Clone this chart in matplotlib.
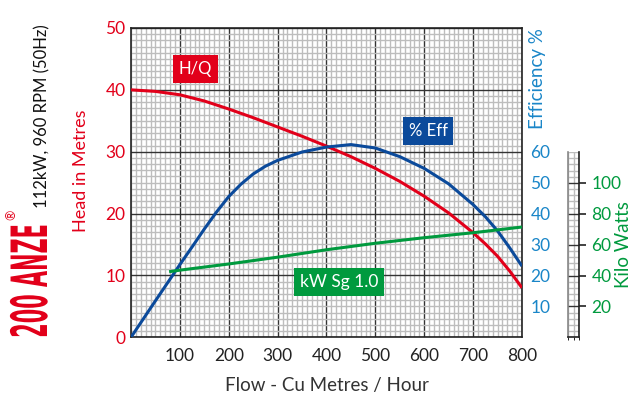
import numpy as np
import matplotlib
matplotlib.use('Agg')
import matplotlib.pyplot as plt
import matplotlib.patheffects as pe
from matplotlib.transforms import Affine2D
from matplotlib.ticker import MultipleLocator

plt.rcParams['font.family'] = ['Lato', 'DejaVu Sans']

# flow, cu metres / hour  -> head in metres
hq_flow = [0, 50, 100, 150, 200, 250, 300, 350, 400, 450, 500, 550, 600, 650, 700, 725, 750, 775, 800]
head = [40.0, 39.75, 39.2, 38.2, 36.9, 35.5, 34.0, 32.5, 30.9, 29.2, 27.3, 25.2, 22.8, 20.1, 16.9, 15.1, 13.1, 10.7, 8.0]

# efficiency %
eff_flow = [0, 50, 100, 125, 150, 175, 200, 225, 250, 275, 300, 350, 400, 450, 500, 550, 600, 650, 700, 725, 750, 775, 800]
eff = [0, 11.8, 23.5, 29.2, 35.0, 40.5, 45.5, 49.5, 52.8, 55.3, 57.2, 59.9, 61.5, 62.3, 61.2, 58.4, 54.6, 49.6, 42.9, 39.0, 34.4, 28.9, 23.0]

# kilo watts, sg 1.0
kw_flow = [78, 100, 200, 300, 400, 500, 600, 700, 800]
kw = [42.4, 43.4, 47.4, 51.8, 56.6, 60.8, 64.4, 67.6, 71.3]

x_ticks = [100, 200, 300, 400, 500, 600, 700, 800]
head_ticks = [0, 10, 20, 30, 40, 50]
eff_ticks = [10, 20, 30, 40, 50, 60]
kw_ticks = [20, 40, 60, 80, 100]

red = '#e2001a'
dblue = '#0b4a9b'
lblue = '#1a86c8'
green = '#009a3e'


class Squash(pe.AbstractPathEffect):
    # stretch the glyph outlines, for the tall condensed model name
    def __init__(self, sx, sy):
        super().__init__()
        self.sx = sx
        self.sy = sy

    def draw_path(self, renderer, gc, tpath, affine, rgbFace=None):
        renderer.draw_path(gc, tpath, Affine2D().scale(self.sx, self.sy) + affine, rgbFace)


fig = plt.figure(figsize=(6.35, 4.05), dpi=100)
ax = fig.add_axes([0.2063, 0.1672, 0.6157, 0.7637])


def paper_grid(a, xmaj, xmin, ymaj, ymin):
    a.xaxis.set_major_locator(MultipleLocator(xmaj))
    a.xaxis.set_minor_locator(MultipleLocator(xmin))
    a.yaxis.set_major_locator(MultipleLocator(ymaj))
    a.yaxis.set_minor_locator(MultipleLocator(ymin))
    a.grid(which='minor', color='#bdbdbd', lw=1.0)
    a.grid(which='major', color='#333333', lw=1.0)
    a.set_axisbelow(True)
    for s in a.spines.values():
        s.set_color('#222222')
        s.set_linewidth(1.2)


paper_grid(ax, 100, 10, 10, 1)
ax.set_xlim(0, 800)
ax.set_ylim(0, 50)

line_kw = dict(lw=2.2, solid_capstyle='butt', solid_joinstyle='round', zorder=3)
ax.plot(hq_flow, head, color=red, **line_kw)
ax.plot(eff_flow, [e / 2 for e in eff], color=dblue, **line_kw)
ax.plot(kw_flow, [k / 4 for k in kw], color=green, **line_kw)

ax.set_xticks(x_ticks)
ax.set_xticklabels([str(t) for t in x_ticks], fontsize=12.5, color='#222222')
ax.set_yticks(head_ticks)
ax.set_yticklabels([str(t) for t in head_ticks], fontsize=12.5, color=red)
ax.tick_params(which='both', length=0, pad=4)
ax.tick_params(axis='x', pad=8)
ax.set_xlabel('Flow - Cu Metres / Hour', fontsize=13.5, color='#333333', labelpad=9)

# efficiency scale on the right
ax2 = ax.twinx()
ax2.set_ylim(0, 100)
ax2.set_yticks(eff_ticks)
ax2.set_yticklabels([str(t) for t in eff_ticks], fontsize=12.5, color=lblue)
ax2.tick_params(length=0, pad=6)
for s in ax2.spines.values():
    s.set_visible(False)
fig.text(0.847, 0.805, 'Efficiency %', rotation=90, color=lblue, fontsize=13.5,
         ha='center', va='center')

# kilo watts scale
ax3 = fig.add_axes([0.8945, 0.1672, 0.0173, 0.4575])
paper_grid(ax3, 10, 5, 20, 4)
ax3.set_xlim(0, 10)
ax3.set_ylim(0, 120)
ax3.set_xticks([])
ax3.yaxis.tick_right()
ax3.set_yticks(kw_ticks)
ax3.set_yticklabels([str(t) for t in kw_ticks], fontsize=12.5, color=green)
ax3.tick_params(axis='y', which='major', length=5, width=1.2, color='#222222', pad=4)
ax3.tick_params(axis='y', which='minor', length=0)
ax3.spines['left'].set_color('#888888')
ax3.spines['top'].set_visible(False)
fig.text(0.982, 0.395, 'Kilo Watts', rotation=90, color=green, fontsize=13.5,
         ha='center', va='center')

# curve labels
box = dict(boxstyle='square,pad=0.35', ec='none')
ax.text(132, 43.4, 'H/Q', color='white', fontsize=12, ha='center', va='center',
        bbox=dict(box, fc=red), zorder=5)
ax.text(608, 33.3, '% Eff', color='white', fontsize=12, ha='center', va='center',
        bbox=dict(box, fc=dblue), zorder=5)
ax.text(426, 8.9, 'kW Sg 1.0', color='white', fontsize=12.5, ha='center', va='center',
        bbox=dict(box, fc=green), zorder=5)

# left hand titles
fig.text(0.074, 0.166, '200 ANZE', rotation=90, rotation_mode='anchor', color=red,
         fontsize=15, family='DejaVu Sans', weight='bold', ha='left', va='baseline',
         path_effects=[Squash(1.0, 2.4)])
fig.text(0.018, 0.47, '®', rotation=90, color=red, fontsize=9, ha='center', va='center')
fig.text(0.067, 0.486, '112kW, 960 RPM (50Hz)', rotation=90, color='#111111', fontsize=12,
         ha='center', va='bottom')
fig.text(0.128, 0.578, 'Head in Metres', rotation=90, color=red, fontsize=13,
         ha='center', va='center')

fig.savefig('out.png', dpi=100)
